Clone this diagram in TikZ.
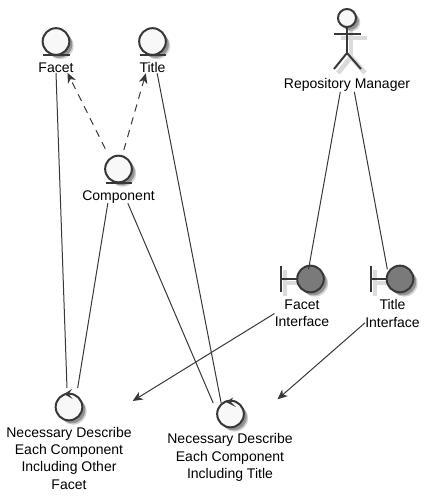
\documentclass[tikz,border=0pt]{standalone}
\usepackage{fontspec}
\setmainfont{Liberation Sans}
\usetikzlibrary{positioning, arrows.meta, shadows}
\definecolor{umlline}{RGB}{56, 56, 56}
\definecolor{umlfill}{RGB}{248, 248, 248}
\definecolor{umldark}{RGB}{122, 122, 122}

\begin{document}
\begin{tikzpicture}[
      x=0.75pt, y=-0.75pt,
      softshadow/.style={drop shadow={shadow xshift=2.2pt, shadow yshift=-2.2pt, fill=black, opacity=0.3}, drop shadow={shadow xshift=3.2pt, shadow yshift=-3.2pt, fill=black, opacity=0.18}},
      umlcircle/.style={circle, draw=umlline, line width=1.5pt, fill=#1, minimum size=20pt, inner sep=0pt, softshadow},
      entityicon/.style={umlcircle=umlfill},
      boundaryicon/.style={umlcircle=umldark},
      controlicon/.style={umlcircle=umlfill},
      umllabel/.style={font=\fontsize{10.5}{13}\selectfont, align=center, inner sep=0pt, text=black},
      glyphline/.style={draw=umlline, line width=1.5pt},
      glyphshadow/.style={draw=black!14, line width=3.5pt},
      plainline/.style={draw=umlline, line width=0.75pt},
      dashline/.style={plainline, dash pattern=on 5.5pt off 4.5pt, -{Stealth[inset=2.2pt, length=7.5pt, width=6.5pt]}},
      flowarrow/.style={plainline, -{Stealth[inset=2.2pt, length=7.5pt, width=6.5pt]}}
    ]
      \useasboundingbox (0,0) rectangle (430,501);

      % entities
      \node[entityicon] (facet) at (56,41.5) {};
      \node[entityicon] (title) at (152.5,41.5) {};
      \node[entityicon] (component) at (118.5,169) {};
      \node[umllabel, below=5pt of facet] (facetlabel) {Facet};
      \node[umllabel, below=5pt of title] (titlelabel) {Title};
      \node[umllabel, below=5pt of component] (componentlabel) {Component};
      \draw[glyphline] (43,55) -- (69.5,55);
      \draw[glyphline] (139.5,55) -- (166,55);
      \draw[glyphline] (105.5,183) -- (132,183);

      % actor
      \draw[glyphshadow] (341,38) -- (367,38);
      \draw[glyphshadow] (351,30) -- (351,57);
      \draw[glyphshadow] (351,57) -- (338,73);
      \draw[glyphshadow] (351,57) -- (365,73);
      \node[umlcircle=umlfill, minimum size=13.5pt] (actorhead) at (347,18) {};
      \draw[glyphline] (actorhead.south) -- (347,53) coordinate (actorhip);
      \draw[glyphline] (333.5,34) -- (361,34);
      \draw[glyphline] (actorhip) -- (334,69);
      \draw[glyphline] (actorhip) -- (361,69);
      \node[umllabel, anchor=center] (managerlabel) at (347,85) {Repository Manager};

      % boundaries
      \draw[glyphshadow] (285,270) -- (285,296);
      \draw[glyphshadow] (285,283) -- (302,283);
      \draw[glyphshadow] (375,270) -- (375,296);
      \draw[glyphshadow] (375,283) -- (392,283);
      \node[boundaryicon] (facetui) at (310.5,279) {};
      \node[boundaryicon] (titleui) at (400,279) {};
      \draw[glyphline] (281,266) -- (281,292);
      \draw[glyphline] (281,279) -- (facetui);
      \draw[glyphline] (371,266) -- (371,292);
      \draw[glyphline] (371,279) -- (titleui);
      \node[umllabel, anchor=center] (facetuilabel) at (302,313.5) {Facet\\Interface};
      \node[umllabel, anchor=center] (titleuilabel) at (392.5,313.5) {Title\\Interface};

      % controls
      \node[controlicon] (describefacet) at (69,407) {};
      \node[controlicon] (describetitle) at (230.5,414) {};
      \fill[umlline] (64,394) -- (72,389) -- (68.7,394) -- (72.7,399) -- cycle;
      \fill[umlline] (226,402) -- (233,397.5) -- (231,402) -- (236,407) -- cycle;
      \node[umllabel, anchor=center] (describefacetlabel) at (69,458) {Necessary Describe\\Each Component\\Including Other\\Facet};
      \node[umllabel, anchor=center] (describetitlelabel) at (230,457.5) {Necessary Describe\\Each Component\\Including Title};

      % connectors
      \draw[dashline] ([xshift=-10pt, yshift=4.5pt]component.north) -- ([xshift=8.6pt]facetlabel.south);
      \draw[dashline] ([xshift=4pt, yshift=3.5pt]component.north) -- ([xshift=-5pt]titlelabel.south);
      \draw[plainline] (facetlabel.south) -- ([xshift=-1.5pt, yshift=3.5pt]describefacet.north);
      \draw[plainline] ([xshift=-8pt]componentlabel.south) -- ([xshift=6.5pt, yshift=3.5pt]describefacet.north);
      \draw[plainline] ([xshift=7pt]componentlabel.south) -- ([xshift=-13pt, yshift=-2.5pt]describetitle.north);
      \draw[plainline] ([xshift=3.5pt]titlelabel.south) -- ([xshift=-7pt, yshift=-2.5pt]describetitle.north);
      \draw[plainline] ([xshift=-5pt]managerlabel.south) -- ([xshift=-1.5pt, yshift=-3.5pt]facetui.north);
      \draw[plainline] ([xshift=5.5pt]managerlabel.south) -- ([xshift=-9.5pt, yshift=-3.5pt]titleui.north);
      \draw[flowarrow] (facetuilabel.west) -- ([xshift=37pt, yshift=4.5pt]describefacet.east);
      \draw[flowarrow] ([yshift=-7pt]titleuilabel.west) -- ([xshift=24.5pt, yshift=11pt]describetitle.east);
    \end{tikzpicture}
\end{document}
